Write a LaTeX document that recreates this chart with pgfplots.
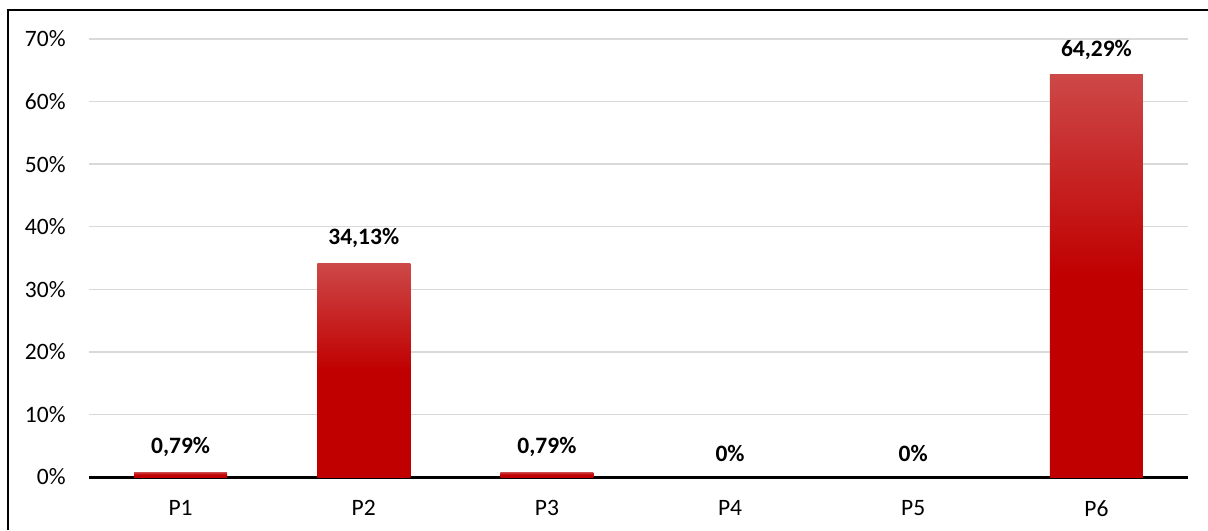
\documentclass[border=0pt]{standalone}
\usepackage{fontspec}
\setmainfont{Carlito}
\usepackage{pgfplots}
\pgfplotsset{compat=1.18}
\definecolor{barred}{RGB}{192,0,0}
\definecolor{barlight}{RGB}{205,72,72}
\definecolor{gridgray}{RGB}{217,217,217}
% darker lower half, lighter towards the top of each bar
\pgfdeclareverticalshading{barshade}{100bp}{color(0bp)=(barred); color(25bp)=(barred); color(50bp)=(barred); color(75bp)=(barlight); color(100bp)=(barlight)}

\begin{document}
\begin{tikzpicture}
\useasboundingbox (0,0) rectangle (604pt,265pt);
\draw[black, line width=1pt] (4pt,0) -- (4pt,259.75pt) -- (604pt,259.75pt);
\begin{axis}[
  at={(44.5pt,26.5pt)}, anchor=south west,
  scale only axis, width=549.5pt, height=219pt,
  ybar, bar width=46.5pt, bar shift=0pt,
  xmin=-0.5, xmax=5.5, ymin=0, ymax=70,
  xtick={0,...,5}, xticklabels={P1,P2,P3,P4,P5,P6},
  ytick={0,10,...,70},
  yticklabel={\pgfmathprintnumber{\tick}\%},
  /pgf/number format/assume math mode=true,
  major tick length=0pt,
  ymajorgrids, major grid style={gridgray, line width=0.75pt},
  axis x line*=bottom, axis y line*=left,
  x axis line style={black, line width=1.5pt, -},
  y axis line style={draw=none},
  tick label style={font=\fontsize{11.75}{14}\selectfont, text=black},
  yticklabel style={anchor=east, inner sep=0pt, xshift=-11.5pt},
  xticklabel style={anchor=north, inner sep=0pt, yshift=-11.5pt},
  nodes near coords={\pgfmathprintnumber[use comma, fixed, precision=2]{\pgfplotspointmeta}\%},
  every node near coord/.append style={font=\bfseries\fontsize{11.75}{14}\selectfont, text=black, anchor=south, inner sep=0pt, yshift=7.5pt},
]
% one plot per bar so that each bar gets its own gradient
\addplot[draw=none, shading=barshade] coordinates {(0,0.79)};
\addplot[draw=none, shading=barshade] coordinates {(1,34.13)};
\addplot[draw=none, shading=barshade] coordinates {(2,0.79)};
\addplot[draw=none, fill=none] coordinates {(3,0) (4,0)};
\addplot[draw=none, shading=barshade] coordinates {(5,64.29)};
\end{axis}
\end{tikzpicture}
\end{document}
